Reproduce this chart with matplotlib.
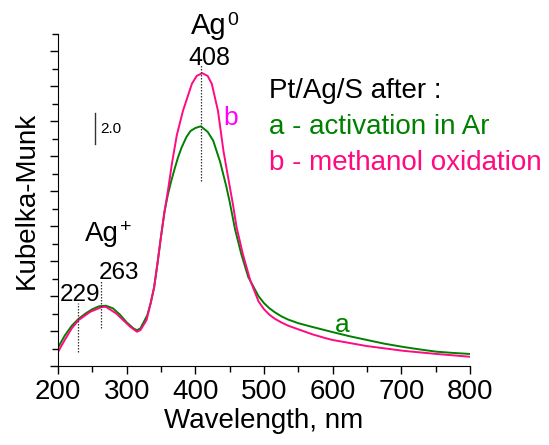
import matplotlib
matplotlib.use("Agg")
import matplotlib.pyplot as plt
from matplotlib.ticker import MultipleLocator, NullFormatter

plt.rcParams['font.family'] = ['Liberation Sans', 'DejaVu Sans']

# curve a - activation in Ar (green)
wl_a = [200, 210, 220, 230, 240, 250, 260, 270, 280, 290, 300, 310, 315, 320, 330,
        335, 340, 345, 350, 355, 360, 365, 370, 375, 380, 387, 393, 400, 408, 418,
        426, 436, 445, 450, 458, 467, 477, 492, 500, 508, 516, 525, 535, 550, 570,
        589, 600, 625, 650, 675, 703, 725, 751, 775, 800]
km_a = [1.05, 1.75, 2.3, 2.7, 3.0, 3.25, 3.42, 3.45, 3.3, 2.95, 2.5, 2.15, 2.05, 2.15, 2.9,
        3.6, 4.5, 5.9, 7.4, 8.8, 9.8, 10.6, 11.3, 11.96, 12.5, 13.1, 13.45, 13.62, 13.72, 13.4,
        12.9, 11.7, 10.3, 9.4, 7.8, 6.4, 5.1, 4.0, 3.6, 3.3, 3.07, 2.85, 2.66, 2.45, 2.24,
        2.05, 1.94, 1.7, 1.49, 1.28, 1.09, 0.96, 0.82, 0.75, 0.69]

# curve b - methanol oxidation (pink)
wl_b = [200, 210, 220, 230, 247, 264, 270, 285, 305, 315, 320, 329, 335, 340, 345,
        350, 355, 360, 366, 373, 382, 395, 402, 410, 418, 424, 433, 441, 450, 455,
        460, 469, 480, 492, 500, 508, 516, 525, 535, 550, 570, 589, 600, 650, 703,
        751, 800]
km_b = [0.8, 1.5, 2.15, 2.63, 3.1, 3.38, 3.38, 3.0, 2.25, 1.96, 2.05, 2.63, 3.6, 4.5, 5.9,
        7.4, 8.8, 10.0, 11.6, 13.2, 14.6, 16.15, 16.6, 16.76, 16.6, 16.15, 14.6, 12.3, 10.3, 9.2,
        7.96, 6.44, 4.9, 3.7, 3.25, 2.93, 2.7, 2.5, 2.31, 2.1, 1.82, 1.6, 1.49, 1.14, 0.87,
        0.69, 0.53]

# peak markers: wavelength, dotted line bottom, dotted line top
peak_wl = [229, 263, 408]
peak_lo = [0.8, 2.17, 10.6]
peak_hi = [3.6, 4.9, 17.3]

green = '#008000'
pink = '#ff0a80'

fig = plt.figure(figsize=(5.49, 4.45), dpi=100)
ax = fig.add_axes([0.1056, 0.1775, 0.7505, 0.7461])

ax.plot(wl_a, km_a, color=green, lw=1.4)
ax.plot(wl_b, km_b, color=pink, lw=1.4)

for w, lo, hi in zip(peak_wl, peak_lo, peak_hi):
    ax.plot([w, w], [lo, hi], color='#333333', ls=(0, (1.2, 1.2)), lw=0.9)

ax.set_xlim(200, 800)
ax.set_ylim(0, 19)
ax.xaxis.set_major_locator(MultipleLocator(100))
ax.xaxis.set_minor_locator(MultipleLocator(50))
ax.yaxis.set_major_locator(MultipleLocator(2))
ax.yaxis.set_minor_locator(MultipleLocator(1))
ax.yaxis.set_major_formatter(NullFormatter())
ax.spines['top'].set_visible(False)
ax.spines['right'].set_visible(False)
ax.tick_params(which='major', direction='out', length=6, width=1, labelsize=20)
ax.tick_params(which='minor', direction='out', length=4, width=1)
ax.set_xlabel('Wavelength, nm', fontsize=20, labelpad=2)
ax.set_ylabel('Kubelka-Munk', fontsize=20)
ax.yaxis.set_label_coords(-0.045, 0.5)

# annotations
ax.text(445, 19.45, 'Ag', fontsize=21, ha='right', va='center', clip_on=False)
ax.text(446, 19.75, '0', fontsize=14, ha='left', va='center', clip_on=False)
ax.text(420, 17.65, '408', fontsize=18, ha='center', va='center')
ax.text(289, 7.55, 'Ag', fontsize=20, ha='right', va='center')
ax.text(290, 7.9, '+', fontsize=14, ha='left', va='center')
ax.text(260, 5.35, '263', fontsize=17.5, ha='left', va='center')
ax.text(261, 4.05, '229', fontsize=17.5, ha='right', va='center')
ax.plot([254, 254], [12.7, 14.5], color='#333333', lw=1)
ax.text(261, 13.55, '2.0', fontsize=11, ha='left', va='center')
ax.text(441, 14.2, 'b', fontsize=19, color='#ff00ff', ha='left', va='center')
ax.text(603, 2.35, 'a', fontsize=19, color=green, ha='left', va='center')

fig.text(269 / 549, 1 - 91 / 445, 'Pt/Ag/S after :', fontsize=20, ha='left', va='center')
fig.text(269 / 549, 1 - 127 / 445, 'a - activation in Ar', fontsize=20,
         color=green, ha='left', va='center')
fig.text(269 / 549, 1 - 163 / 445, 'b - methanol oxidation', fontsize=20,
         color=pink, ha='left', va='center')

fig.savefig('out.png', dpi=100)
